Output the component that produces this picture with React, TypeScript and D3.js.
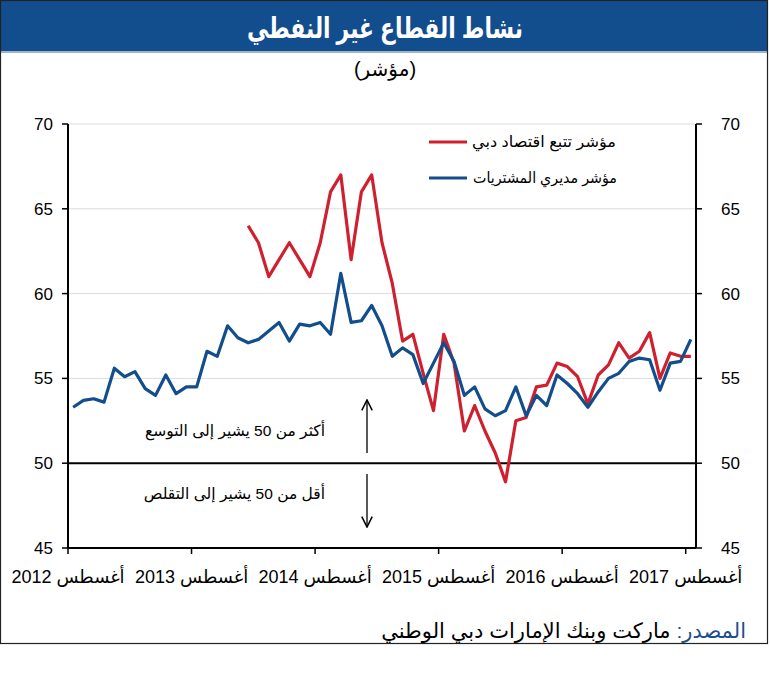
import React from 'react';
import * as d3 from 'd3';

// مؤشر مديري المشتريات — شهري من أغسطس 2012 حتى أغسطس 2017
const pmiValues: number[] = [
  53.3, 53.7, 53.8, 53.6, 55.6, 55.1, 55.4, 54.4, 54.0, 55.2, 54.1, 54.5,
  54.5, 56.6, 56.3, 58.1, 57.4, 57.1, 57.3, 57.8, 58.3, 57.2, 58.2, 58.1,
  58.3, 57.6, 61.2, 58.3, 58.4, 59.3, 58.1, 56.3, 56.8, 56.4, 54.7, 55.9,
  57.1, 56.0, 54.0, 54.5, 53.2, 52.8, 53.1, 54.5, 52.8, 54.0, 53.4, 55.2,
  54.7, 54.1, 53.3, 54.2, 55.0, 55.3, 56.0, 56.2, 56.1, 54.3, 55.9, 56.0,
  57.3,
];

// مؤشر تتبع اقتصاد دبي — يبدأ من يناير 2014
const dubaiValues: (number | null)[] = [
  null, null, null, null, null, null, null, null, null, null, null, null,
  null, null, null, null, null, 64.0, 63.0, 61.0, 62.0, 63.0, 62.0, 61.0,
  63.0, 66.0, 67.0, 62.0, 66.0, 67.0, 63.0, 60.6, 57.2, 57.6, 55.3, 53.1,
  57.6, 55.9, 51.9, 53.4, 51.9, 50.6, 48.9, 52.5, 52.7, 54.5, 54.6, 55.9,
  55.7, 55.1, 53.5, 55.2, 55.8, 57.1, 56.2, 56.6, 57.7, 55.0, 56.5, 56.3,
  56.3,
];

const xTickMonths = [0, 12, 24, 36, 48, 60];
const xTickLabels = ['أغسطس 2012', 'أغسطس 2013', 'أغسطس 2014', 'أغسطس 2015', 'أغسطس 2016', 'أغسطس 2017'];
const yTicks = [45, 50, 55, 60, 65, 70];
const gridTicks = [55, 60, 65, 70];

const seriesNames = ['مؤشر تتبع  اقتصاد دبي', 'مؤشر مديري المشتريات'];
const RED = '#cf2030';
const BLUE = '#124e8c';
const FONT = "'Liberation Sans', 'DejaVu Sans', sans-serif";

export default function App() {
  const W = 770;
  const H = 694;
  const left = 68;
  const right = 696;
  const top = 124;
  const bottom = 548;

  const x = d3.scaleLinear().domain([0, pmiValues.length]).range([left, right]);
  const y = d3.scaleLinear().domain([45, 70]).range([bottom, top]);

  const line = d3
    .line<number | null>()
    .defined((d) => d != null)
    .x((_, i) => x(i + 0.5))
    .y((d) => y(d as number));

  return (
    <svg
      width={W}
      height={H}
      style={{ position: 'absolute', left: 0, top: 0, background: '#fff' }}
      fontFamily={FONT}
    >
      {/* عنوان */}
      <rect x={0} y={0} width={768} height={52} fill="#124d8e" />
      <line x1={0} x2={768} y1={52} y2={52} stroke="#9fb3cc" strokeWidth={2} />
      <text
        x={385}
        y={38}
        textAnchor="middle"
        fill="#fff"
        fontSize={29}
        fontWeight="bold"
        textLength={276}
        lengthAdjust="spacingAndGlyphs"
      >
        نشاط القطاع غير النفطي
      </text>
      <text x={385} y={76} textAnchor="middle" fill="#000" fontSize={20}>
        (مؤشر)
      </text>

      {/* خطوط الشبكة */}
      {gridTicks.map((t) => (
        <line key={t} x1={left} x2={right} y1={y(t)} y2={y(t)} stroke="#dcdcdc" strokeWidth={1} />
      ))}

      {/* الخط المرجعي 50 */}
      <line x1={left} x2={right} y1={y(50)} y2={y(50)} stroke="#000" strokeWidth={2} />

      {/* المحاور */}
      <line x1={left} x2={left} y1={top} y2={bottom} stroke="#000" strokeWidth={2} />
      <line x1={right} x2={right} y1={top} y2={bottom} stroke="#000" strokeWidth={2} />
      <line x1={left} x2={right} y1={bottom} y2={bottom} stroke="#000" strokeWidth={2} />
      {yTicks.map((t) => (
        <g key={t}>
          <line x1={left - 6} x2={left} y1={y(t)} y2={y(t)} stroke="#000" strokeWidth={1.5} />
          <line x1={right} x2={right + 6} y1={y(t)} y2={y(t)} stroke="#000" strokeWidth={1.5} />
          <text x={53} y={y(t) + 6} textAnchor="end" fontSize={17}>
            {t}
          </text>
          <text x={721} y={y(t) + 6} textAnchor="start" fontSize={17}>
            {t}
          </text>
        </g>
      ))}
      {xTickMonths.map((m, i) => (
        <g key={m}>
          <line x1={x(m)} x2={x(m)} y1={bottom} y2={bottom + 6} stroke="#000" strokeWidth={1.5} />
          <text x={x(m)} y={583} textAnchor="middle" fontSize={18}>
            {xTickLabels[i]}
          </text>
        </g>
      ))}

      {/* السلاسل */}
      <path d={line(dubaiValues) ?? ''} fill="none" stroke={RED} strokeWidth={3.2} strokeLinejoin="round" />
      <path d={line(pmiValues) ?? ''} fill="none" stroke={BLUE} strokeWidth={3.2} strokeLinejoin="round" />

      {/* وسيلة الإيضاح */}
      <line x1={429} x2={467} y1={142} y2={142} stroke={RED} strokeWidth={3.2} />
      <text x={472} y={147} fontSize={15.5} textLength={144} lengthAdjust="spacingAndGlyphs">
        {seriesNames[0]}
      </text>
      <line x1={429} x2={467} y1={178} y2={178} stroke={BLUE} strokeWidth={3.2} />
      <text x={473} y={183} fontSize={15.5} textLength={144} lengthAdjust="spacingAndGlyphs">
        {seriesNames[1]}
      </text>

      {/* أسهم التوسع والتقلص */}
      <defs>
        <marker id="arr" viewBox="0 0 10 10" refX={9} refY={5} markerWidth={10} markerHeight={10} orient="auto">
          <path d="M1,1 L9,5 L1,9" fill="none" stroke="#000" strokeWidth={1.2} />
        </marker>
      </defs>
      <line x1={367} x2={367} y1={453} y2={400} stroke="#000" strokeWidth={1.3} markerEnd="url(#arr)" />
      <line x1={367} x2={367} y1={474} y2={527} stroke="#000" strokeWidth={1.3} markerEnd="url(#arr)" />
      <text x={325} y={436} textAnchor="end" fontSize={15.5}>
        أكثر من 50 يشير إلى التوسع
      </text>
      <text x={325} y={499} textAnchor="end" fontSize={15.5}>
        أقل من 50 يشير إلى التقلص
      </text>

      {/* المصدر */}
      <text x={746} y={638} textAnchor="end" fontSize={21}>
        <tspan fill="#1f4e8f">المصدر:</tspan>
        <tspan fill="#000"> ماركت وبنك الإمارات دبي الوطني</tspan>
      </text>

      {/* الإطار */}
      <rect x={0.5} y={0.5} width={767} height={643} fill="none" stroke="#222" strokeWidth={1.2} />
    </svg>
  );
}
